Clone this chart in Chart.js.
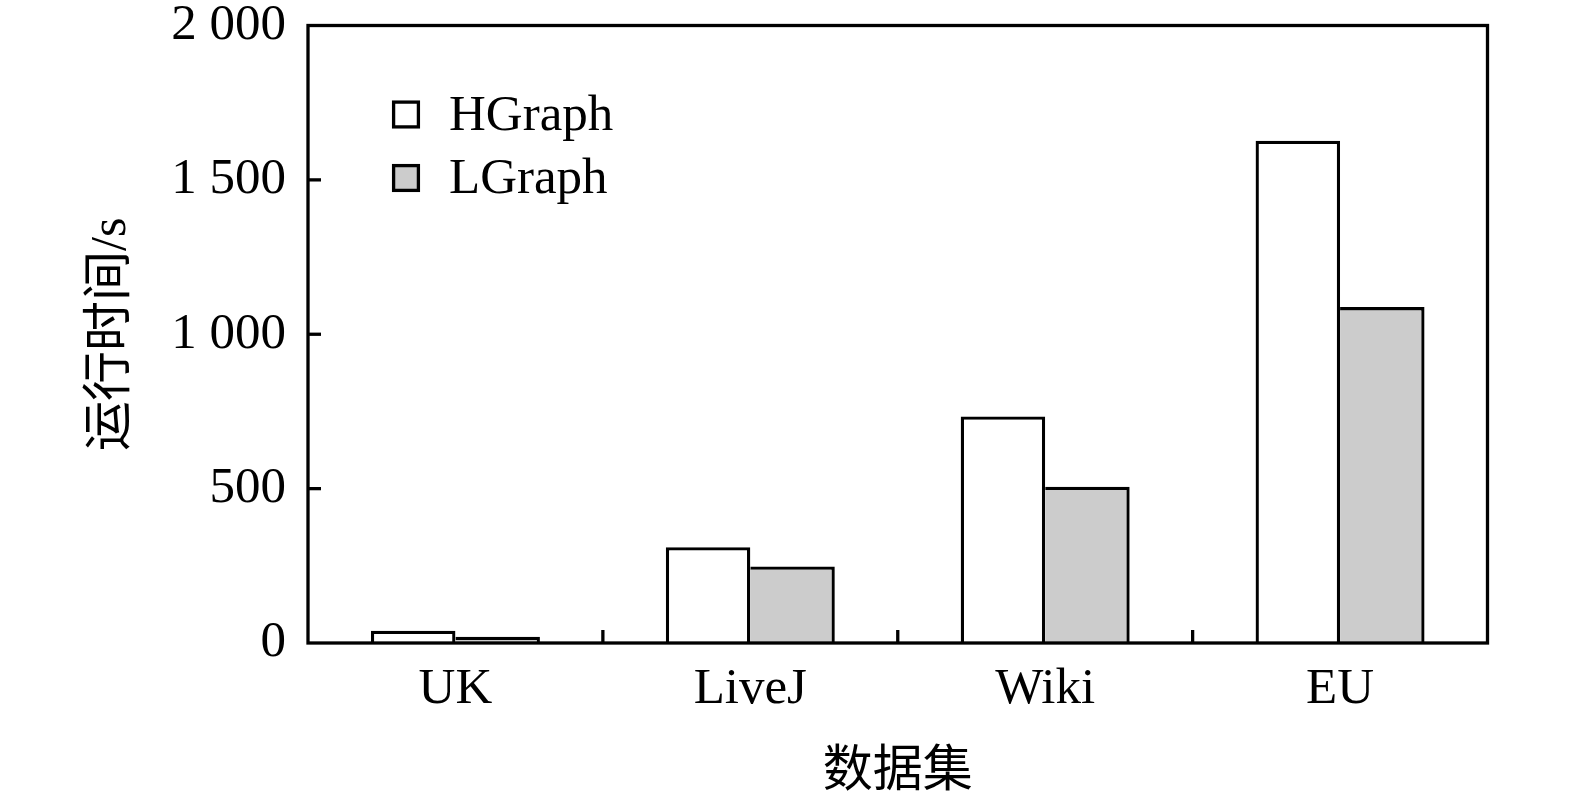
<!DOCTYPE html>
<html>
<head>
<meta charset="utf-8">
<script src="https://cdn.jsdelivr.net/npm/chart.js@4/dist/chart.umd.min.js"></script>
<style>
  html, body { margin: 0; padding: 0; background: #fff; }
  #wrap { width: 1575px; height: 802px; }
</style>
</head>
<body>
<div id="wrap"><canvas id="c" width="1575" height="802"></canvas></div>
<script>
const categories = ['UK', 'LiveJ', 'Wiki', 'EU'];
const hgraphValues = [40, 310, 734, 1627];
const lgraphValues = [20, 248, 506, 1088];
const seriesNames = ['HGraph', 'LGraph'];
const seriesColors = ['#ffffff', '#cccccc'];
const yTickValues = [0, 500, 1000, 1500, 2000];
const yTickLabels = ['0', '500', '1 000', '1 500', '2 000'];
const xTitle = '数据集';
const yTitle = '运行时间/s';

const serif = "'Liberation Serif', 'Times New Roman', serif";
const titleFamily = "'Liberation Serif', 'Noto Sans CJK SC', serif";

const framePlugin = {
  id: 'frame',
  afterDatasetsDraw(chart) {
    const {ctx, chartArea: a, scales} = chart;
    ctx.save();
    ctx.strokeStyle = '#000';
    ctx.lineWidth = 3.3;
    ctx.strokeRect(a.left, a.top, a.right - a.left, a.bottom - a.top);
    const y = scales.y;
    yTickValues.forEach(v => {
      if (v === yTickValues[0] || v === yTickValues[yTickValues.length - 1]) return;
      const py = y.getPixelForValue(v);
      ctx.beginPath();
      ctx.moveTo(a.left, py);
      ctx.lineTo(a.left + 13, py);
      ctx.stroke();
    });
    const x = scales.x;
    for (let i = 1; i < categories.length; i++) {
      const px = (x.getPixelForValue(i - 1) + x.getPixelForValue(i)) / 2;
      ctx.beginPath();
      ctx.moveTo(px, a.bottom);
      ctx.lineTo(px, a.bottom - 13);
      ctx.stroke();
    }
    const boxLeft = 392, boxSize = 28, rows = [114.5, 178];
    ctx.font = '51px ' + serif;
    ctx.textBaseline = 'middle';
    ctx.textAlign = 'left';
    chart.data.datasets.forEach((ds, i) => {
      const cy = rows[i];
      ctx.fillStyle = ds.backgroundColor;
      ctx.fillRect(boxLeft, cy - boxSize / 2, boxSize, boxSize);
      ctx.lineWidth = 3.3;
      ctx.strokeStyle = '#000';
      ctx.strokeRect(boxLeft + 1.6, cy - boxSize / 2 + 1.6, boxSize - 3.2, boxSize - 3.2);
      ctx.fillStyle = '#000';
      ctx.fillText(ds.label, 449, cy + 2);
    });
    ctx.restore();
  }
};

new Chart(document.getElementById('c'), {
  type: 'bar',
  data: {
    labels: categories,
    datasets: [
      {
        label: seriesNames[0],
        data: hgraphValues,
        backgroundColor: seriesColors[0],
        borderColor: '#000',
        borderWidth: {top: 3.3, left: 3.3, right: 3.3, bottom: 0},
        borderSkipped: false,
        barPercentage: 1,
        categoryPercentage: 0.573
      },
      {
        label: seriesNames[1],
        data: lgraphValues,
        backgroundColor: seriesColors[1],
        borderColor: '#000',
        borderWidth: {top: 3.3, left: 0, right: 3.3, bottom: 0},
        borderSkipped: false,
        barPercentage: 1,
        categoryPercentage: 0.573
      }
    ]
  },
  options: {
    responsive: false,
    animation: false,
    layout: { padding: { top: 25.5, right: 87.5, bottom: 0, left: 0 } },
    plugins: { legend: { display: false }, tooltip: { enabled: false } },
    scales: {
      x: {
        grid: { display: false, drawTicks: false },
        border: { display: false },
        ticks: { color: '#000', padding: 21, font: { family: serif, size: 51, lineHeight: 1 } },
        title: { display: true, text: xTitle, color: '#000', padding: { top: 0, bottom: 4 }, font: { family: titleFamily, size: 50, lineHeight: 1 } },
        afterFit(s) { s.height = 159; s.paddingLeft = 0; s.paddingRight = 0; }
      },
      y: {
        min: 0,
        max: 2000,
        grid: { display: false, drawTicks: false },
        border: { display: false },
        afterBuildTicks(s) { s.ticks = yTickValues.map(v => ({ value: v })); },
        ticks: {
          color: '#000',
          padding: 22,
          font: { family: serif, size: 51, lineHeight: 1 },
          callback(value) { const i = yTickValues.indexOf(value); return i >= 0 ? yTickLabels[i] : ''; }
        },
        title: { display: true, text: yTitle, color: '#000', padding: { top: 87, bottom: 0 }, font: { family: titleFamily, size: 50, lineHeight: 1 } },
        afterFit(s) { s.width = 308; s.paddingTop = 0; s.paddingBottom = 0; }
      }
    }
  },
  plugins: [framePlugin]
});
</script>
</body>
</html>
